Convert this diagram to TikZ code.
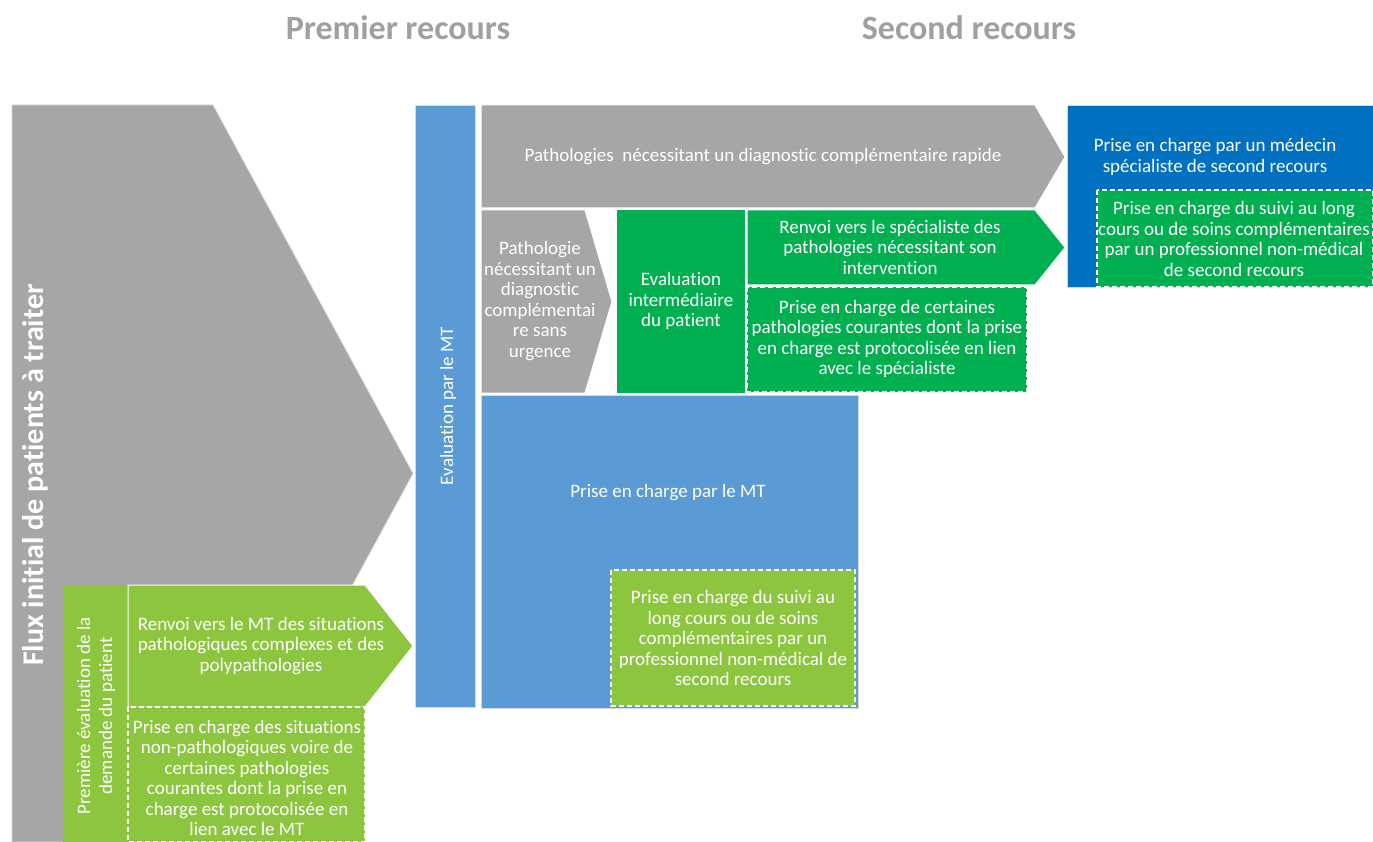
\documentclass[tikz,border=0pt]{standalone}
\usepackage{fontspec}
\setmainfont[Ligatures=NoCommon]{Carlito}
\definecolor{cgray}{HTML}{A6A6A6}
\definecolor{lblue}{HTML}{5B9BD5}
\definecolor{dblue}{HTML}{0070C0}
\definecolor{dgreen}{HTML}{00B050}
\definecolor{lgreen}{HTML}{8CC63F}
\definecolor{ttlgray}{HTML}{A0A0A0}
\begin{document}
\begin{tikzpicture}[x=1pt,y=-1pt,
  shp/.style={draw=black!15, line width=0.8pt},
  wshp/.style={draw=white, line width=1pt},
  dsh/.style={draw=white, dash pattern=on 5pt off 3pt, line width=1.2pt},
  txt/.style={text=white, align=center, font=\fontsize{19}{20.5}\selectfont, inner sep=0pt},
  ttl/.style={text=ttlgray, font=\bfseries\fontsize{34}{40}\selectfont, inner sep=0pt}
]
\useasboundingbox (0,0) rectangle (1373,842);

% titles
\node[ttl] (t1) at (398,28) {Premier recours};
\node[ttl] (t2) at (969,28) {Second recours};

% big gray chevron
\path[shp, fill=cgray] (12,105) -- (213,105) -- (413,473.5) -- (213,842) -- (12,842) -- cycle;
\node[txt, rotate=90, font=\bfseries\fontsize{30}{36}\selectfont] (flux) at (35,475) {Flux initial de patients à traiter};

% light green area
\path[fill=lgreen] (63,585) rectangle (128,842);
\node[txt, rotate=90, font=\fontsize{19}{22}\selectfont] (prem) at (96,716) {Première évaluation de la\\demande du patient};
\path[wshp, fill=lgreen] (128,585) -- (365,585) -- (413,646) -- (365,707) -- (128,707) -- cycle;
\node[txt] (renmt) at (261,646) {Renvoi vers le MT des situations\\pathologiques complexes et des\\polypathologies};
\path[dsh, fill=lgreen] (128,707) rectangle (365,842);
\node[txt] (pecsit) at (247,778) {Prise en charge des situations\\non-pathologiques voire de\\certaines pathologies\\courantes dont la prise en\\charge est protocolisée en\\lien avec le MT};

% blue vertical bar
\path[shp, fill=lblue] (415,105) rectangle (475,707);
\node[txt, rotate=90] (evalmt) at (448,406) {Evaluation par le MT};

% top gray chevron
\path[wshp, fill=cgray] (481,105) -- (1035,105) -- (1065,157) -- (1035,208) -- (481,208) -- cycle;
\node[txt] (pathrap) at (763,157) {Pathologies\ \ nécessitant un diagnostic complémentaire rapide};

% small gray chevron
\path[wshp, fill=cgray] (481,210) -- (585,210) -- (612,301.5) -- (585,393) -- (481,393) -- cycle;
\node[txt] (pathsans) at (540,301) {Pathologie\\nécessitant un\\diagnostic\\complémentai\\re sans\\urgence};

% dark green box
\path[fill=dgreen] (617,210) rectangle (745,393);
\node[txt] (evalint) at (681,301) {Evaluation\\intermédiaire\\du patient};

% dark green chevron
\path[wshp, fill=dgreen] (747,210) -- (1035,210) -- (1065,247.5) -- (1035,285) -- (747,285) -- cycle;
\node[txt] (renspe) at (890,247) {Renvoi vers le spécialiste des\\pathologies nécessitant son\\intervention};

% dark green dashed box
\path[dsh, fill=dgreen] (747,287) rectangle (1027,392);
\node[txt] (pecpath) at (887,339) {Prise en charge de certaines\\pathologies courantes dont la prise\\en charge est protocolisée en lien\\avec le spécialiste};

% blue MT box
\path[shp, fill=lblue] (481,395) rectangle (858,708);
\node[txt] (pecmt) at (668,493) {Prise en charge par le MT};
\path[dsh, fill=lgreen] (611,570) rectangle (855,706);
\node[txt] (suivi1) at (733,638) {Prise en charge du suivi au\\long cours ou de soins\\complémentaires par un\\professionnel non-médical de\\second recours};

% dark blue box
\path[shp, fill=dblue] (1067,105) rectangle (1373,287);
\node[txt] (pecspe) at (1215,157) {Prise en charge par un médecin\\spécialiste de second recours};
\path[dsh, fill=dgreen] (1097,190) rectangle (1373,287);
\node[txt] (suivi2) at (1234,239) {Prise en charge du suivi au long\\cours ou de soins complémentaires\\par un professionnel non-médical\\de second recours};
\end{tikzpicture}
\end{document}
